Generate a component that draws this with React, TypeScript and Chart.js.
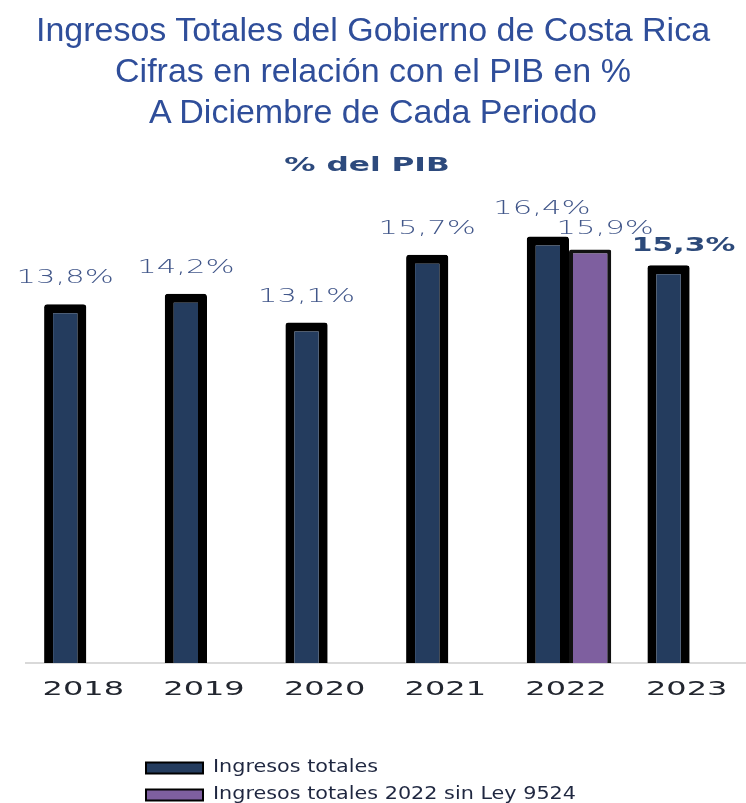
import React, { useEffect, useRef } from 'react';
import { Chart, registerables } from 'chart.js';

Chart.register(...registerables);

// ---- data ----
const categories = ['2018', '2019', '2020', '2021', '2022', '2023'];
const ingresosTotales = [13.8, 14.2, 13.1, 15.7, 16.4, 15.3];
const ingresosSinLey: (number | null)[] = [null, null, null, null, 15.9, null];
const seriesNames = ['Ingresos totales', 'Ingresos totales 2022 sin Ley 9524'];
const titleLines = [
  'Ingresos Totales del Gobierno de Costa Rica',
  'Cifras en relación con el PIB en %',
  'A Diciembre de Cada Periodo',
];
const subtitleText = '% del PIB';

const FONT = '"DejaVu Sans", sans-serif';

function stretchText(
  ctx: CanvasRenderingContext2D,
  text: string,
  x: number,
  y: number,
  sx: number,
  align: CanvasTextAlign = 'center'
) {
  ctx.save();
  ctx.translate(x, y);
  ctx.scale(sx, 1);
  ctx.textAlign = align;
  ctx.textBaseline = 'middle';
  ctx.fillText(text, 0, 0);
  ctx.restore();
}

function fmt(v: number) {
  return v.toFixed(1).replace('.', ',') + '%';
}

// label nudges (style only): [datasetIndex-categoryIndex] -> [dx, dy]
const labelNudge: Record<string, [number, number]> = {
  '0-4': [-6, -28],
  '1-4': [15, -21],
  '0-5': [15, -19],
};

const textPlugin = {
  id: 'customText',
  afterDraw(chart: any) {
    const ctx: CanvasRenderingContext2D = chart.ctx;
    const xs = chart.scales.x;

    // subtitle
    ctx.save();
    ctx.fillStyle = '#2d4a7d';
    ctx.font = `bold 20px ${FONT}`;
    stretchText(ctx, subtitleText, 367, 166, 1.56);
    ctx.restore();

    // x tick labels
    ctx.save();
    ctx.fillStyle = '#22262f';
    ctx.font = `20px ${FONT}`;
    categories.forEach((c, i) => {
      stretchText(ctx, c, xs.getPixelForValue(i) - 3, 690, 1.6);
    });
    ctx.restore();

    // data labels
    chart.data.datasets.forEach((ds: any, di: number) => {
      const meta = chart.getDatasetMeta(di);
      meta.data.forEach((el: any, i: number) => {
        const v = ds.data[i];
        if (v == null) return;
        const nudge = labelNudge[`${di}-${i}`] || [0, -26];
        const isLast = di === 0 && i === categories.length - 1;
        ctx.save();
        if (isLast) {
          ctx.fillStyle = '#2d4a7a';
          ctx.font = `bold 20px ${FONT}`;
          stretchText(ctx, fmt(v), el.x + nudge[0], el.y + nudge[1], 1.49);
        } else {
          ctx.fillStyle = '#42578a';
          ctx.font = `200 20px ${FONT}`;
          stretchText(ctx, fmt(v), el.x + nudge[0], el.y + nudge[1], 1.53);
        }
        ctx.restore();
      });
    });

    // legend
    const rows = [768, 795];
    chart.data.datasets.forEach((ds: any, di: number) => {
      const y = rows[di];
      ctx.save();
      ctx.fillStyle = ds.backgroundColor;
      ctx.fillRect(146, y - 5.5, 57, 11);
      ctx.strokeStyle = '#000';
      ctx.lineWidth = 2;
      ctx.strokeRect(146, y - 5.5, 57, 11);
      ctx.fillStyle = '#1f2740';
      ctx.font = `17px ${FONT}`;
      stretchText(ctx, ds.label, 213, y, 1.22, 'left');
      ctx.restore();
    });
  },
};

export default function App() {
  const ref = useRef<HTMLCanvasElement | null>(null);

  useEffect(() => {
    if (!ref.current) return;
    const chart = new Chart(ref.current, {
      type: 'bar',
      data: {
        labels: categories,
        datasets: [
          {
            label: seriesNames[0],
            data: ingresosTotales,
            backgroundColor: '#243c5e',
            borderColor: '#000000',
            borderWidth: 9,
            borderRadius: 3,
            borderSkipped: 'start',
          },
          {
            label: seriesNames[1],
            data: ingresosSinLey,
            backgroundColor: '#7e5f9f',
            borderColor: '#111111',
            borderWidth: 4,
            borderRadius: 2,
            borderSkipped: 'start',
            barPercentage: 1.0,
          },
        ],
      },
      options: {
        responsive: false,
        animation: false,
        devicePixelRatio: 1,
        layout: { padding: { left: 26, right: 0, top: 195, bottom: 140 } },
        datasets: { bar: { categoryPercentage: 0.7, barPercentage: 1.0 } },
        scales: {
          x: {
            grid: { display: false },
            ticks: { display: false },
            border: { display: true, color: '#d9d9d9', width: 2 },
            afterFit: (s: any) => {
              s.height = 0;
            },
          },
          y: { display: false, min: 0, max: 18 },
        },
        plugins: {
          legend: { display: false },
          title: { display: false },
          tooltip: { enabled: false },
        },
      },
      plugins: [textPlugin],
    });
    return () => chart.destroy();
  }, []);

  return (
    <div
      style={{
        position: 'absolute',
        left: 0,
        top: 0,
        width: 746,
        height: 803,
        overflow: 'hidden',
        background: '#ffffff',
      }}
    >
      <canvas ref={ref} width={750} height={803} style={{ position: 'absolute', left: 0, top: 0 }} />
      <div
        style={{
          position: 'absolute',
          left: 0,
          top: 9,
          width: 746,
          textAlign: 'center',
          fontFamily: '"Liberation Sans", Arial, sans-serif',
          fontSize: 34,
          lineHeight: '41px',
          color: '#2f4e9a',
        }}
      >
        {titleLines.map((l) => (
          <div key={l}>{l}</div>
        ))}
      </div>
    </div>
  );
}
